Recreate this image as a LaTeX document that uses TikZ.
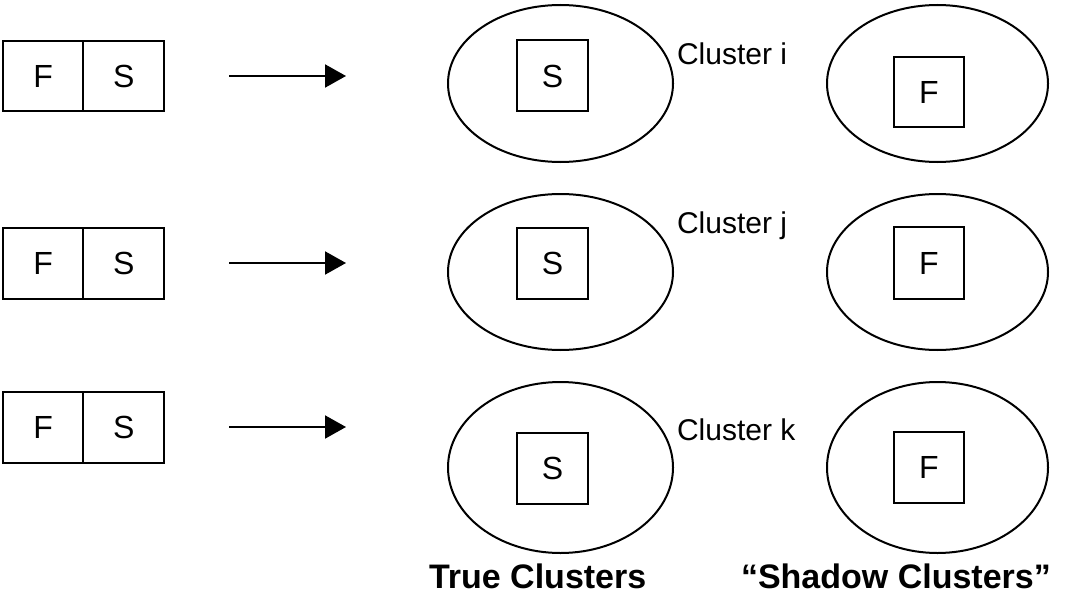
\documentclass[tikz,border=0pt]{standalone}
\usepackage{fontspec}
\setmainfont{Liberation Sans}
\usetikzlibrary{arrows.meta,shapes.geometric}
\begin{document}
\begin{tikzpicture}[x=1pt,y=-1pt,
  line width=2pt,
  cell/.style={draw, rectangle, minimum width=80.5pt, minimum height=70pt, inner sep=0pt,
    font=\fontsize{32}{36}\selectfont},
  inbox/.style={draw, rectangle, minimum width=71pt, minimum height=71pt, inner sep=0pt,
    font=\fontsize{32}{36}\selectfont},
  clus/.style={draw, ellipse, inner sep=0pt},
  clab/.style={anchor=base west, inner sep=0pt, font=\fontsize{30}{34}\selectfont},
  title/.style={anchor=base west, inner sep=0pt, font=\fontsize{34}{38}\selectfont\bfseries},
  flow/.style={-{Triangle[length=21pt,width=23pt]}}
]
\useasboundingbox (0,0) rectangle (1073,607);

% ---------- row i ----------
\node[cell] (f1) at (43.2,76.5) {F};
\node[cell] (s1) at (123.7,76.5) {S};
\coordinate (a1s) at (229,76);
\coordinate (a1e) at (346,76);
\draw[flow] (a1s) -- (a1e);
\node[clus, minimum width=225pt, minimum height=157pt] (t1) at (560.5,83.5) {};
\node[inbox] (ts1) at (552.5,76) {S};
\node[clus, minimum width=221pt, minimum height=157pt] (h1) at (937.5,83.5) {};
\node[inbox, minimum width=70pt, minimum height=70pt] (hf1) at (929,92) {F};
\node[clab] (ci) at (676,65) {Cluster i};

% ---------- row j ----------
\node[cell, minimum height=71pt] (f2) at (43.2,263.5) {F};
\node[cell, minimum height=71pt] (s2) at (123.7,263.5) {S};
\coordinate (a2s) at (229,263);
\coordinate (a2e) at (346,263);
\draw[flow] (a2s) -- (a2e);
\node[clus, minimum width=225pt, minimum height=156pt] (t2) at (560.5,272) {};
\node[inbox] (ts2) at (552.5,263.5) {S};
\node[clus, minimum width=221pt, minimum height=156pt] (h2) at (937.5,272) {};
\node[inbox, minimum width=70pt, minimum height=72pt] (hf2) at (929,263) {F};
\node[clab] (cj) at (676,233) {Cluster j};

% ---------- row k ----------
\node[cell, minimum height=71pt] (f3) at (43.2,427) {F};
\node[cell, minimum height=71pt] (s3) at (123.7,427) {S};
\coordinate (a3s) at (229,427);
\coordinate (a3e) at (346,427);
\draw[flow] (a3s) -- (a3e);
\node[clus, minimum width=225pt, minimum height=171pt] (t3) at (560.5,467.5) {};
\node[inbox] (ts3) at (552.5,468.5) {S};
\node[clus, minimum width=221pt, minimum height=171pt] (h3) at (937.5,467.5) {};
\node[inbox, minimum width=70pt, minimum height=71pt] (hf3) at (929,467.5) {F};
\node[clab] (ck) at (676,440) {Cluster k};

% ---------- captions ----------
\node[title] (lt) at (428,588) {True Clusters};
\node[title] (ls) at (740,588) {“Shadow Clusters”};
\end{tikzpicture}
\end{document}
